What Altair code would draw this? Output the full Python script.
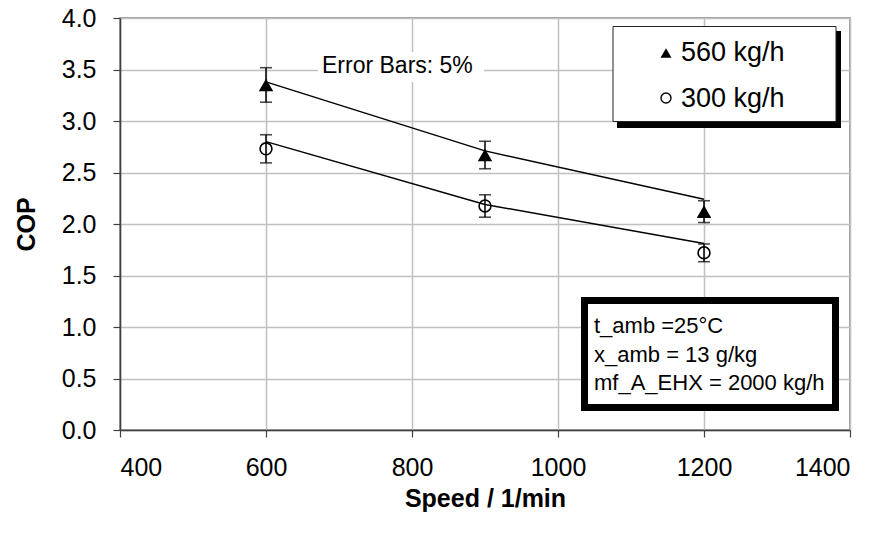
import altair as alt
import pandas as pd

# ---- data ----
speeds = [600, 900, 1200]
cop_560 = [3.35, 2.67, 2.12]
cop_300 = [2.73, 2.175, 1.72]
trend_560 = [3.38, 2.71, 2.24]
trend_300 = [2.80, 2.19, 1.81]
error_fraction = 0.05
series_names = ["560 kg/h", "300 kg/h"]
notes = ["t_amb =25°C", "x_amb = 13 g/kg", "mf_A_EHX = 2000 kg/h"]
error_label = "Error Bars: 5%"
x_ticks = [400, 600, 800, 1000, 1200, 1400]
y_ticks = [0.0, 0.5, 1.0, 1.5, 2.0, 2.5, 3.0, 3.5, 4.0]

rows = []
for name, vals, trend in [(series_names[0], cop_560, trend_560),
                          (series_names[1], cop_300, trend_300)]:
    for s, v, t in zip(speeds, vals, trend):
        rows.append(dict(series=name, speed=s, cop=v,
                         lo=v * (1 - error_fraction), hi=v * (1 + error_fraction),
                         trend=t))
df = pd.DataFrame(rows)

FONT = "Liberation Sans"
W, H = 730, 412

xs = alt.Scale(domain=[400, 1400], nice=False, zero=False)
ys = alt.Scale(domain=[0, 4], nice=False)
x_axis = alt.Axis(values=x_ticks, format="d", title="Speed / 1/min",
                  tickSize=7, labelPadding=18, titlePadding=6,
                  grid=True)
y_axis = alt.Axis(values=y_ticks, format=".1f", title="COP",
                  tickSize=7, labelPadding=17, titlePadding=22,
                  grid=True)

X = alt.X("speed:Q", scale=xs, axis=x_axis)

base = alt.Chart(df)

trend = base.mark_line(color="black", strokeWidth=1.5).encode(
    x=X, y=alt.Y("trend:Q", scale=ys, axis=y_axis), detail="series:N")

err = base.mark_rule(color="black", strokeWidth=1.5).encode(
    x=X, y=alt.Y("lo:Q", scale=ys, axis=y_axis), y2="hi:Q")
cap_hi = base.mark_tick(orient="horizontal", size=12, thickness=1.6, color="black").encode(
    x=X, y=alt.Y("hi:Q", scale=ys, axis=y_axis))
cap_lo = base.mark_tick(orient="horizontal", size=12, thickness=1.6, color="black").encode(
    x=X, y=alt.Y("lo:Q", scale=ys, axis=y_axis))

tri = base.transform_filter(alt.datum.series == series_names[0]).mark_point(
    shape="triangle-up", filled=True, color="black", size=210, opacity=1).encode(
    x=X, y=alt.Y("cop:Q", scale=ys, axis=y_axis))
circ = base.transform_filter(alt.datum.series == series_names[1]).mark_point(
    shape="circle", filled=False, color="black", strokeWidth=1.6, size=140, opacity=1).encode(
    x=X, y=alt.Y("cop:Q", scale=ys, axis=y_axis))

one = alt.Chart(pd.DataFrame({"k": [0]}))

# "Error Bars" label with white background
err_bg = one.mark_rect(color="white").encode(
    x=alt.value(198), x2=alt.value(364), y=alt.value(34), y2=alt.value(64))
err_txt = one.mark_text(text=error_label, font=FONT, fontSize=23, align="left",
                        baseline="alphabetic", color="black").encode(
    x=alt.value(202), y=alt.value(55))

# legend box
leg_shadow = one.mark_rect(color="black").encode(
    x=alt.value(497), x2=alt.value(721), y=alt.value(13), y2=alt.value(110))
leg_box = one.mark_rect(fill="white", stroke="#222222", strokeWidth=1).encode(
    x=alt.value(493), x2=alt.value(716), y=alt.value(8.5), y2=alt.value(103.5))
leg_tri = one.mark_point(shape="triangle-up", filled=True, color="black", size=120, opacity=1).encode(
    x=alt.value(546), y=alt.value(35))
leg_circ = one.mark_point(shape="circle", filled=False, color="black", strokeWidth=1.4,
                          size=100, opacity=1).encode(x=alt.value(546), y=alt.value(80))
leg_t1 = one.mark_text(text=series_names[0], font=FONT, fontSize=27, align="left",
                       baseline="alphabetic", color="black").encode(x=alt.value(561), y=alt.value(43))
leg_t2 = one.mark_text(text=series_names[1], font=FONT, fontSize=27, align="left",
                       baseline="alphabetic", color="black").encode(x=alt.value(561), y=alt.value(89))

# conditions box
note_box = one.mark_rect(fill="white", stroke="black", strokeWidth=7).encode(
    x=alt.value(464.5), x2=alt.value(715.5), y=alt.value(282.5), y2=alt.value(389.5))
note_layers = []
for i, n in enumerate(notes):
    note_layers.append(one.mark_text(text=n, font=FONT, fontSize=22, align="left",
                                     baseline="alphabetic", color="black").encode(
        x=alt.value(474), y=alt.value(315 + 28.5 * i)))

chart = alt.layer(
    trend, err, cap_hi, cap_lo, tri, circ,
    err_bg, err_txt,
    leg_shadow, leg_box, leg_tri, leg_circ, leg_t1, leg_t2,
    note_box, *note_layers,
).properties(
    width=W, height=H,
    autosize=alt.AutoSizeParams(type="none"),
    padding={"left": 120, "top": 18, "right": 43, "bottom": 104},
    background="white",
).configure_view(
    stroke="#808080", strokeWidth=1.5
).configure_axis(
    labelFont=FONT, titleFont=FONT, labelFontSize=25, titleFontSize=25,
    labelColor="black", titleColor="black", titleFontWeight="bold",
    domainColor="#404040", domainWidth=1.5, tickColor="#404040", tickWidth=1.2,
    gridColor="#c0c0c0", gridWidth=1.5, gridOpacity=1,
)

chart.save("out.html", embed_options={"renderer": "svg", "actions": False})
